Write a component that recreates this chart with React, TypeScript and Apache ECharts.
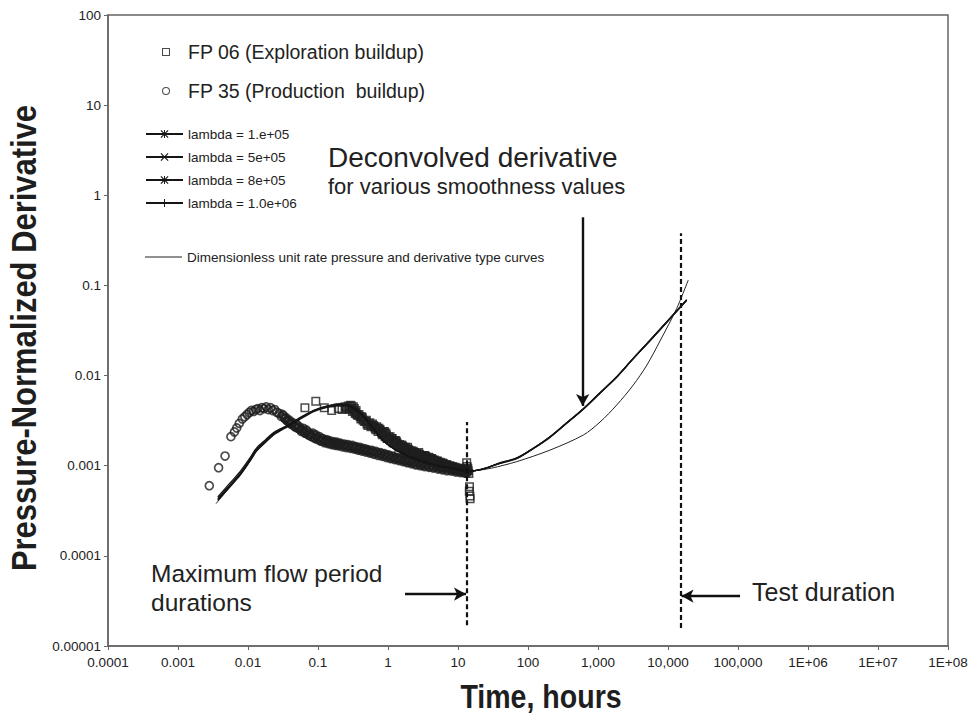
import React, { useEffect, useRef } from 'react';
import * as echarts from 'echarts';

// ---------- axis ticks ----------
const xTickValues = [1e-4, 1e-3, 1e-2, 1e-1, 1, 10, 100, 1e3, 1e4, 1e5, 1e6, 1e7, 1e8];
const xTickLabels = ['0.0001', '0.001', '0.01', '0.1', '1', '10', '100', '1,000', '10,000', '100,000', '1E+06', '1E+07', '1E+08'];
const yTickValues = [1e-5, 1e-4, 1e-3, 1e-2, 0.1, 1, 10, 100];
const yTickLabels = ['0.00001', '0.0001', '0.001', '0.01', '0.1', '1', '10', '100'];
const xTitle = 'Time, hours';
const yTitle = 'Pressure-Normalized Derivative';

// ---------- series names ----------
const nameFP06 = 'FP 06 (Exploration buildup)';
const nameFP35 = 'FP 35 (Production  buildup)';
const lambdaNames = ['lambda = 1.e+05', 'lambda = 5e+05', 'lambda = 8e+05', 'lambda = 1.0e+06'];
const nameType = 'Dimensionless unit rate pressure and derivative type curves';

// ---------- FP 06 (squares) ----------
const fp06 = [
  [0.065, 0.0044], [0.093, 0.0052], [0.123, 0.0044], [0.157, 0.0041], [0.195, 0.0043], [0.22, 0.0042],
  [0.243, 0.0045], [0.25, 0.0043], [0.27, 0.0046], [0.29, 0.0047], [0.3, 0.0046], [0.32, 0.0045], [0.33, 0.0043],
  [0.26, 0.0044], [0.28, 0.0042], [0.31, 0.004], [0.34, 0.0038], [0.35, 0.0041], [0.37, 0.0036], [0.4, 0.0035],
  [0.42, 0.0035], [0.44, 0.0032], [0.48, 0.0031], [0.5, 0.0029], [0.53, 0.0029], [0.58, 0.0028], [0.6, 0.0029],
  [0.64, 0.0027], [0.67, 0.0025], [0.7, 0.0026], [0.74, 0.0026], [0.77, 0.0025], [0.81, 0.0023], [0.85, 0.0024],
  [0.89, 0.0024], [0.93, 0.0023], [0.97, 0.002], [1.02, 0.0021], [1.07, 0.0021], [1.12, 0.002], [1.18, 0.0018],
  [1.23, 0.0019], [1.29, 0.0019], [1.35, 0.00178], [1.42, 0.0016], [1.5, 0.00168], [1.57, 0.0017], [1.65, 0.0016],
  [1.72, 0.0015], [1.8, 0.00155], [1.9, 0.0016], [2.0, 0.00148], [2.1, 0.0014], [2.2, 0.00142], [2.3, 0.00145],
  [2.4, 0.00139], [2.5, 0.0013], [2.65, 0.00135], [2.75, 0.0014], [2.9, 0.0013], [3.0, 0.00125], [3.2, 0.00128],
  [3.35, 0.0013], [3.5, 0.00125], [3.7, 0.00119], [3.9, 0.00122], [4.1, 0.0012], [4.3, 0.00117], [4.5, 0.0011],
  [4.7, 0.00113], [5.0, 0.00113], [5.2, 0.00109], [5.5, 0.00104], [5.7, 0.00106], [6.0, 0.00107], [6.3, 0.00104],
  [6.6, 0.001], [7.0, 0.00102], [7.3, 0.00098], [7.7, 0.00099], [8.1, 0.00097], [8.5, 0.00096], [8.9, 0.00093],
  [9.3, 0.00094], [9.8, 0.00094], [10.2, 0.00092], [10.7, 0.0009], [11.2, 0.0009], [11.7, 0.00091], [12.2, 0.00089],
  [12.6, 0.00087], [13.0, 0.00092], [13.3, 0.00108], [13.5, 0.00098], [13.8, 0.00094], [14.0, 0.00088],
  [14.3, 0.00082], [14.5, 0.00052], [14.6, 0.000585], [14.8, 0.00046], [14.9, 0.00043],
  [0.305, 0.0043], [0.325, 0.0041], [0.345, 0.0039], [0.36, 0.0037], [0.385, 0.0037], [0.41, 0.0033], [0.43, 0.0034],
  [0.46, 0.0031], [0.49, 0.0032], [0.515, 0.0028], [0.55, 0.003], [0.57, 0.0027], [0.62, 0.0028], [0.655, 0.0026],
  [0.69, 0.0027], [0.72, 0.0024], [0.76, 0.0025], [0.79, 0.0024], [0.83, 0.0022], [0.87, 0.0023], [0.91, 0.0021],
  [0.95, 0.0022], [1.0, 0.002], [1.045, 0.002], [1.1, 0.0019], [1.15, 0.002], [1.2, 0.00185], [1.26, 0.0018],
  [1.32, 0.00185], [1.39, 0.0017], [1.46, 0.00172], [1.54, 0.0016], [1.61, 0.00165], [1.69, 0.00155], [1.76, 0.0016],
  [1.85, 0.0015], [1.95, 0.00152], [2.05, 0.00143], [2.15, 0.00147], [2.25, 0.00137], [2.35, 0.0014], [2.45, 0.00133],
  [2.58, 0.00137], [2.7, 0.00129], [2.83, 0.00133], [2.95, 0.00126], [3.1, 0.0013], [3.27, 0.00122], [3.43, 0.00127],
  [3.6, 0.00119], [3.8, 0.00124], [4.0, 0.00116], [4.2, 0.0012], [4.4, 0.00113], [4.6, 0.00116], [4.85, 0.0011],
  [5.1, 0.00112], [5.35, 0.00106], [5.6, 0.00109], [5.85, 0.00103], [6.15, 0.00106], [6.45, 0.00101], [6.8, 0.00103],
  [7.15, 0.00098], [7.5, 0.001], [7.9, 0.00096], [8.3, 0.00098], [8.7, 0.00094], [9.1, 0.00096], [9.55, 0.00092],
  [10.0, 0.00094], [10.45, 0.0009], [10.95, 0.00092], [11.45, 0.00089], [11.95, 0.0009], [12.4, 0.00088], [12.8, 0.0009],
];

// ---------- FP 35 (circles) ----------
const fp35 = [
  [0.0028, 0.0006], [0.0038, 0.00095], [0.0047, 0.00128], [0.0057, 0.0021], [0.0064, 0.00237], [0.0069, 0.00262],
  [0.0075, 0.00295], [0.0083, 0.0033], [0.009, 0.0035], [0.0097, 0.0037], [0.0104, 0.0039], [0.0112, 0.0041],
  [0.012, 0.004], [0.0129, 0.0042], [0.0138, 0.0043], [0.0148, 0.0041], [0.0158, 0.0044], [0.017, 0.0043],
  [0.0182, 0.0045], [0.0195, 0.0042], [0.021, 0.0044], [0.0225, 0.0041], [0.024, 0.0042], [0.026, 0.0039],
  [0.028, 0.0038], [0.03, 0.0035], [0.032, 0.0036], [0.034, 0.0033], [0.036, 0.0032], [0.038, 0.0031],
  [0.04, 0.003], [0.042, 0.0029], [0.045, 0.0028], [0.048, 0.0027], [0.05, 0.0028], [0.053, 0.0026],
  [0.056, 0.0025], [0.06, 0.0025], [0.063, 0.0024], [0.066, 0.0023], [0.07, 0.0024], [0.074, 0.0022],
  [0.078, 0.0022], [0.082, 0.0021], [0.087, 0.0022], [0.091, 0.002], [0.096, 0.0021], [0.102, 0.002],
  [0.108, 0.0019], [0.114, 0.002], [0.12, 0.0019], [0.127, 0.00185], [0.135, 0.0019], [0.142, 0.0018],
  [0.15, 0.00182], [0.16, 0.00176], [0.17, 0.0018], [0.18, 0.00172], [0.19, 0.00177], [0.2, 0.0017],
  [0.215, 0.00173], [0.23, 0.00167], [0.245, 0.0017], [0.26, 0.00163], [0.28, 0.00166], [0.3, 0.0016],
  [0.32, 0.00163], [0.34, 0.00156], [0.36, 0.00159], [0.385, 0.00152], [0.41, 0.00156], [0.44, 0.00148],
  [0.47, 0.00152], [0.5, 0.00145], [0.53, 0.00148], [0.57, 0.00141], [0.61, 0.00144], [0.65, 0.00137],
  [0.7, 0.0014], [0.75, 0.00133], [0.8, 0.00136], [0.86, 0.0013], [0.92, 0.00132], [0.98, 0.00126],
  [1.05, 0.00129], [1.12, 0.00122], [1.2, 0.00125], [1.29, 0.00119], [1.38, 0.00121], [1.48, 0.00116],
  [1.58, 0.00118], [1.7, 0.00113], [1.82, 0.00115], [1.95, 0.0011], [2.1, 0.00112], [2.25, 0.00107],
  [2.4, 0.00109], [2.6, 0.00104], [2.8, 0.00107], [3.0, 0.00102], [3.2, 0.00104], [3.45, 0.001],
  [3.7, 0.00102], [4.0, 0.00098], [4.3, 0.001], [4.6, 0.00096], [5.0, 0.00098], [5.4, 0.00094],
  [5.8, 0.00096], [6.2, 0.00092], [6.7, 0.00094], [7.2, 0.0009], [7.8, 0.00092], [8.4, 0.00089],
  [9.0, 0.0009], [9.7, 0.00087], [10.4, 0.00089], [11.2, 0.00085], [12.0, 0.00087], [12.8, 0.00084],
  [13.3, 0.00086], [13.6, 0.00083],
  [0.031, 0.0037], [0.033, 0.0034], [0.035, 0.0034], [0.037, 0.0031], [0.039, 0.0032], [0.041, 0.0029],
  [0.0435, 0.003], [0.0465, 0.0027], [0.049, 0.0029], [0.0515, 0.0026], [0.0545, 0.0027], [0.058, 0.0024],
  [0.0615, 0.0026], [0.0645, 0.0023], [0.068, 0.0025], [0.072, 0.0022], [0.076, 0.0023], [0.08, 0.0021],
  [0.0845, 0.0023], [0.089, 0.00205], [0.0935, 0.0022], [0.099, 0.00195], [0.105, 0.0021], [0.111, 0.00187],
  [0.117, 0.002], [0.1235, 0.0018], [0.131, 0.00195], [0.1385, 0.00176], [0.146, 0.0019], [0.155, 0.00172],
  [0.165, 0.00185], [0.175, 0.00168], [0.185, 0.00182], [0.195, 0.00166], [0.207, 0.00178], [0.222, 0.00162],
  [0.237, 0.00174], [0.252, 0.00159], [0.27, 0.00171], [0.29, 0.00156], [0.31, 0.00168], [0.33, 0.00153],
  [0.35, 0.00163], [0.372, 0.00149], [0.397, 0.0016], [0.425, 0.00145], [0.455, 0.00155], [0.485, 0.00142],
  [0.515, 0.00151], [0.55, 0.00138], [0.59, 0.00148], [0.63, 0.00134], [0.675, 0.00144], [0.725, 0.0013],
  [0.775, 0.0014], [0.83, 0.00127], [0.89, 0.00136], [0.95, 0.00123], [1.015, 0.00132], [1.085, 0.0012],
  [1.16, 0.00128], [1.245, 0.00117], [1.335, 0.00124], [1.43, 0.00114], [1.53, 0.00121], [1.64, 0.00111],
  [1.76, 0.00118], [1.885, 0.00108], [2.02, 0.00115], [2.17, 0.00105], [2.33, 0.00112], [2.5, 0.00102],
  [2.7, 0.0011], [2.9, 0.001], [3.1, 0.00107], [3.32, 0.00098], [3.57, 0.00104], [3.85, 0.00096],
  [4.15, 0.00102], [4.45, 0.00094], [4.8, 0.001], [5.2, 0.00092], [5.6, 0.00098], [6.0, 0.0009],
  [6.45, 0.00096], [6.95, 0.00088], [7.5, 0.00094], [8.1, 0.00087], [8.7, 0.00092], [9.35, 0.00085],
  [10.05, 0.0009], [10.8, 0.00084], [11.6, 0.00088], [12.4, 0.00083], [13.1, 0.00088], [13.45, 0.00085],
];

// ---------- deconvolved derivatives (4 smoothness values) ----------
const lambdaX = [0.0037, 0.0055, 0.0077, 0.0105, 0.0133, 0.018, 0.023, 0.03, 0.04, 0.053, 0.069, 0.09, 0.119, 0.15, 0.19,
  0.257, 0.32, 0.39, 0.48, 0.617, 0.8, 1.07, 1.4, 1.85, 2.5, 3.19, 4.3, 5.5, 7.3, 9.57, 13.3, 17.5, 25, 40, 69,
  120, 206, 350, 617, 1050, 1850, 3200, 5530, 10690, 18500];
const lambda1Y = [0.00043, 0.00061, 0.00082, 0.00115, 0.00152, 0.0019, 0.00226, 0.00255, 0.00285, 0.0033, 0.0037, 0.0041,
  0.0044, 0.0046, 0.0047, 0.0047, 0.0044, 0.0039, 0.0033, 0.0026, 0.002, 0.00165, 0.00145, 0.0013, 0.00118, 0.0011,
  0.00103, 0.00099, 0.00095, 0.00092, 0.00086, 0.00088, 0.00094, 0.00107, 0.00121, 0.00156, 0.00208, 0.00294, 0.00426,
  0.00632, 0.00964, 0.0155, 0.0245, 0.043, 0.069];
const lambda2Y = [0.00041, 0.00058, 0.00078, 0.0011, 0.00146, 0.00183, 0.00218, 0.00248, 0.0028, 0.00322, 0.00362, 0.00402,
  0.00432, 0.00452, 0.00462, 0.00462, 0.00436, 0.00388, 0.00328, 0.00258, 0.00198, 0.00164, 0.00144, 0.00129, 0.00118,
  0.0011, 0.00103, 0.00099, 0.00095, 0.00092, 0.00086, 0.00088, 0.00094, 0.00106, 0.0012, 0.00155, 0.00206, 0.00292,
  0.00424, 0.0063, 0.0096, 0.0154, 0.0243, 0.0428, 0.0685];
const lambda3Y = [0.00045, 0.00064, 0.00086, 0.0012, 0.00158, 0.00196, 0.00232, 0.0026, 0.0029, 0.00335, 0.00376, 0.00416,
  0.00446, 0.00466, 0.00476, 0.00474, 0.00444, 0.00394, 0.00334, 0.00264, 0.00203, 0.00166, 0.00146, 0.0013, 0.00119,
  0.0011, 0.00104, 0.00099, 0.00095, 0.00092, 0.00086, 0.00088, 0.00094, 0.00108, 0.00122, 0.00157, 0.0021, 0.00296,
  0.00429, 0.00636, 0.0097, 0.0156, 0.0247, 0.0433, 0.0695];
const lambda4Y = [0.00042, 0.0006, 0.0008, 0.00113, 0.0015, 0.00188, 0.00224, 0.00253, 0.00283, 0.00328, 0.00368, 0.00408,
  0.00438, 0.00458, 0.00468, 0.00468, 0.0044, 0.0039, 0.0033, 0.0026, 0.002, 0.00165, 0.00145, 0.0013, 0.00118, 0.0011,
  0.00103, 0.00099, 0.00095, 0.00092, 0.00086, 0.00088, 0.00094, 0.00107, 0.00121, 0.00156, 0.00208, 0.00294, 0.00426,
  0.00632, 0.00964, 0.0155, 0.0245, 0.043, 0.069];
const lambdaYs = [lambda1Y, lambda2Y, lambda3Y, lambda4Y];

// ---------- type curve ----------
const typeX = [0.0035, 0.0055, 0.0077, 0.0105, 0.0133, 0.018, 0.023, 0.03, 0.04, 0.053, 0.069, 0.09, 0.119, 0.15, 0.19,
  0.257, 0.32, 0.39, 0.48, 0.617, 0.8, 1.07, 1.4, 1.85, 2.5, 3.19, 4.3, 5.5, 7.3, 9.57, 13.3, 17.5, 30, 69, 206,
  617, 1068, 1850, 3190, 5000, 7690, 13300, 19500];
const typeY = [0.00038, 0.00058, 0.00079, 0.0011, 0.00145, 0.00185, 0.0022, 0.0025, 0.0029, 0.0033, 0.0037, 0.0041,
  0.0045, 0.0047, 0.0049, 0.0049, 0.0046, 0.0041, 0.0035, 0.0028, 0.0022, 0.00175, 0.00148, 0.00132, 0.00119,
  0.00111, 0.00104, 0.00099, 0.00095, 0.00092, 0.00087, 0.00088, 0.00094, 0.00111, 0.00149, 0.00219, 0.00305,
  0.00471, 0.00785, 0.0131, 0.0242, 0.0555, 0.115];

// ---------- annotations (data coordinates) ----------
const maxFlowPeriodHours = 13.4;
const maxFlowLineY = [1.7e-5, 3.05e-3];
const testDurationHours = 15200;
const testLineY = [1.58e-5, 0.38];
const deconvArrow = [[604, 0.57], [604, 0.0046]];
const flowArrow = [[1.75, 3.77e-5], [13.0, 3.77e-5]];
const testArrow = [[1.07e5, 3.58e-5], [15600, 3.58e-5]];

const SANS = "'Liberation Sans', Arial, Helvetica, sans-serif";
const INK = '#1e1e1e';

const ASTERISK = 'path://M0,1L1,0L10,9L9,10Z M9,0L10,1L1,10L0,9Z M4.4,0H5.6V10H4.4Z';
const XMARK = 'path://M0,1L1,0L10,9L9,10Z M9,0L10,1L1,10L0,9Z';
const PLUS = 'path://M4.4,0H5.6V10H4.4Z M0,4.4H10V5.6H0Z';
const lambdaSymbols = [ASTERISK, XMARK, ASTERISK, PLUS];
const SQUARE_ICON = 'path://M0,0H10V10H0Z M1.3,1.3V8.7H8.7V1.3Z';
const CIRCLE_ICON = 'path://M5,0A5,5,0,1,1,5,10A5,5,0,1,1,5,0Z M5,1.3A3.7,3.7,0,1,0,5,8.7A3.7,3.7,0,1,0,5,1.3Z';
const LINE_ICON = 'path://M0,0H40V1H0Z';

const zip = (xs: number[], ys: number[]) => xs.map((x, i) => [x, ys[i]]);
const decadeIndex = (v: number) => Math.round(Math.log10(v));

export default function App() {
  const ref = useRef<HTMLDivElement>(null);

  useEffect(() => {
    if (!ref.current) return;
    const chart = echarts.init(ref.current, undefined, { renderer: 'svg' });

    const dashStyle = { color: '#111', type: [5, 3], width: 2.2 };
    const arrowStyle = { color: '#111', type: 'solid', width: 2.4 };

    const option: any = {
      animation: false,
      backgroundColor: '#fff',
      grid: { left: 108, right: 32, top: 15, bottom: 77, show: true, borderColor: '#666', borderWidth: 1.5, backgroundColor: 'transparent' },
      xAxis: {
        type: 'log', logBase: 10, min: 1e-4, max: 1e8,
        axisLine: { show: true, lineStyle: { color: '#666', width: 1.5 } },
        axisTick: { show: true, inside: false, length: 4, customValues: xTickValues, lineStyle: { color: '#666' } },
        axisLabel: {
          customValues: xTickValues, margin: 9, fontFamily: SANS, fontSize: 13.5, color: '#222',
          formatter: (v: number) => xTickLabels[decadeIndex(v) + 4] ?? '',
        },
        splitLine: { show: false },
        minorTick: { show: false }, minorSplitLine: { show: false },
      },
      yAxis: {
        type: 'log', logBase: 10, min: 1e-5, max: 100,
        axisLine: { show: true, lineStyle: { color: '#666', width: 1.5 } },
        axisTick: { show: true, inside: false, length: 4, customValues: yTickValues, lineStyle: { color: '#666' } },
        axisLabel: {
          customValues: yTickValues, margin: 7, fontFamily: SANS, fontSize: 13.5, color: '#222',
          formatter: (v: number) => yTickLabels[decadeIndex(v) + 5] ?? '',
        },
        splitLine: { show: false },
      },
      legend: [
        {
          data: [{ name: nameFP06, icon: SQUARE_ICON }, { name: nameFP35, icon: CIRCLE_ICON }],
          orient: 'vertical', left: 162, top: 42, padding: 0, itemWidth: 34, itemHeight: 8, itemGap: 19,
          selectedMode: false, itemStyle: { color: INK, borderWidth: 0 },
          textStyle: { fontFamily: SANS, fontSize: 19.5, color: '#222', lineHeight: 20 },
        },
        {
          data: lambdaNames,
          orient: 'vertical', left: 145, top: 127, padding: 0, itemWidth: 37, itemHeight: 10, itemGap: 9,
          selectedMode: false,
          textStyle: { fontFamily: SANS, fontSize: 13.5, color: '#222', lineHeight: 14 },
        },
        {
          data: [{ name: nameType, icon: LINE_ICON }],
          orient: 'vertical', left: 145, top: 250, padding: 0, itemWidth: 37, itemHeight: 10,
          selectedMode: false,
          textStyle: { fontFamily: SANS, fontSize: 13.5, color: '#222', lineHeight: 14 },
        },
      ],
      series: [
        {
          name: nameFP06, type: 'scatter', data: fp06, symbol: 'rect', symbolSize: 7.5, z: 2,
          itemStyle: { color: 'rgba(255,255,255,0)', borderColor: INK, borderWidth: 1.5 },
          emphasis: { disabled: true },
        },
        {
          name: nameFP35, type: 'scatter', data: fp35, symbol: 'circle', symbolSize: 8, z: 2,
          itemStyle: { color: 'rgba(255,255,255,0)', borderColor: INK, borderWidth: 1.7 },
          emphasis: { disabled: true },
        },
        {
          name: nameType, type: 'line', data: zip(typeX, typeY), showSymbol: false, symbol: 'none', smooth: 0.3, z: 4,
          lineStyle: { color: '#222', width: 1 }, itemStyle: { color: '#222' },
          emphasis: { disabled: true },
          markLine: {
            silent: true, symbol: ['none', 'none'], label: { show: false }, emphasis: { disabled: true },
            lineStyle: dashStyle,
            data: [
              [{ coord: [maxFlowPeriodHours, maxFlowLineY[0]], lineStyle: dashStyle }, { coord: [maxFlowPeriodHours, maxFlowLineY[1]], lineStyle: dashStyle }],
              [{ coord: [testDurationHours, testLineY[0]], lineStyle: dashStyle }, { coord: [testDurationHours, testLineY[1]], lineStyle: dashStyle }],
              [{ coord: deconvArrow[0], lineStyle: arrowStyle, symbol: 'none' }, { coord: deconvArrow[1], lineStyle: arrowStyle, symbol: 'arrow', symbolSize: [10, 12] }],
              [{ coord: flowArrow[0], lineStyle: arrowStyle, symbol: 'none' }, { coord: flowArrow[1], lineStyle: arrowStyle, symbol: 'arrow', symbolSize: [10, 12] }],
              [{ coord: testArrow[0], lineStyle: arrowStyle, symbol: 'none' }, { coord: testArrow[1], lineStyle: arrowStyle, symbol: 'arrow', symbolSize: [10, 12] }],
            ],
          },
        },
        ...lambdaNames.map((name, i) => ({
          name, type: 'line', data: zip(lambdaX, lambdaYs[i]), showSymbol: false, symbol: lambdaSymbols[i], symbolSize: 8,
          smooth: 0.3, z: 5,
          lineStyle: { color: '#151515', width: 1.3 }, itemStyle: { color: '#151515' },
          emphasis: { disabled: true },
        })),
      ],
      graphic: [
        { type: 'text', x: 23.5, y: 338, rotation: Math.PI / 2, scaleX: 0.86, silent: true,
          style: { text: yTitle, fontFamily: SANS, fontWeight: 'bold', fontSize: 36, fill: INK, align: 'center', verticalAlign: 'middle' } },
        { type: 'text', x: 541, y: 697, scaleX: 0.84, silent: true,
          style: { text: xTitle, fontFamily: SANS, fontWeight: 'bold', fontSize: 34, fill: INK, align: 'center', verticalAlign: 'middle' } },
        { type: 'text', x: 328, y: 157, silent: true, style: { text: 'Deconvolved derivative', fontFamily: SANS, fontSize: 28, fill: '#222', align: 'left', verticalAlign: 'middle' } },
        { type: 'text', x: 328, y: 186, silent: true, style: { text: 'for various smoothness values', fontFamily: SANS, fontSize: 22, fill: '#222', align: 'left', verticalAlign: 'middle' } },
        { type: 'text', x: 151, y: 573, silent: true, style: { text: 'Maximum flow period', fontFamily: SANS, fontSize: 24.5, fill: '#222', align: 'left', verticalAlign: 'middle' } },
        { type: 'text', x: 151, y: 602, silent: true, style: { text: 'durations', fontFamily: SANS, fontSize: 24.5, fill: '#222', align: 'left', verticalAlign: 'middle' } },
        { type: 'text', x: 752, y: 592, silent: true, style: { text: 'Test duration', fontFamily: SANS, fontSize: 25, fill: '#222', align: 'left', verticalAlign: 'middle' } },
      ],
    };

    chart.setOption(option);
    return () => chart.dispose();
  }, []);

  return (
    <div
      ref={ref}
      style={{ position: 'absolute', left: 0, top: 0, width: 980, height: 723, background: '#fff' }}
    />
  );
}
